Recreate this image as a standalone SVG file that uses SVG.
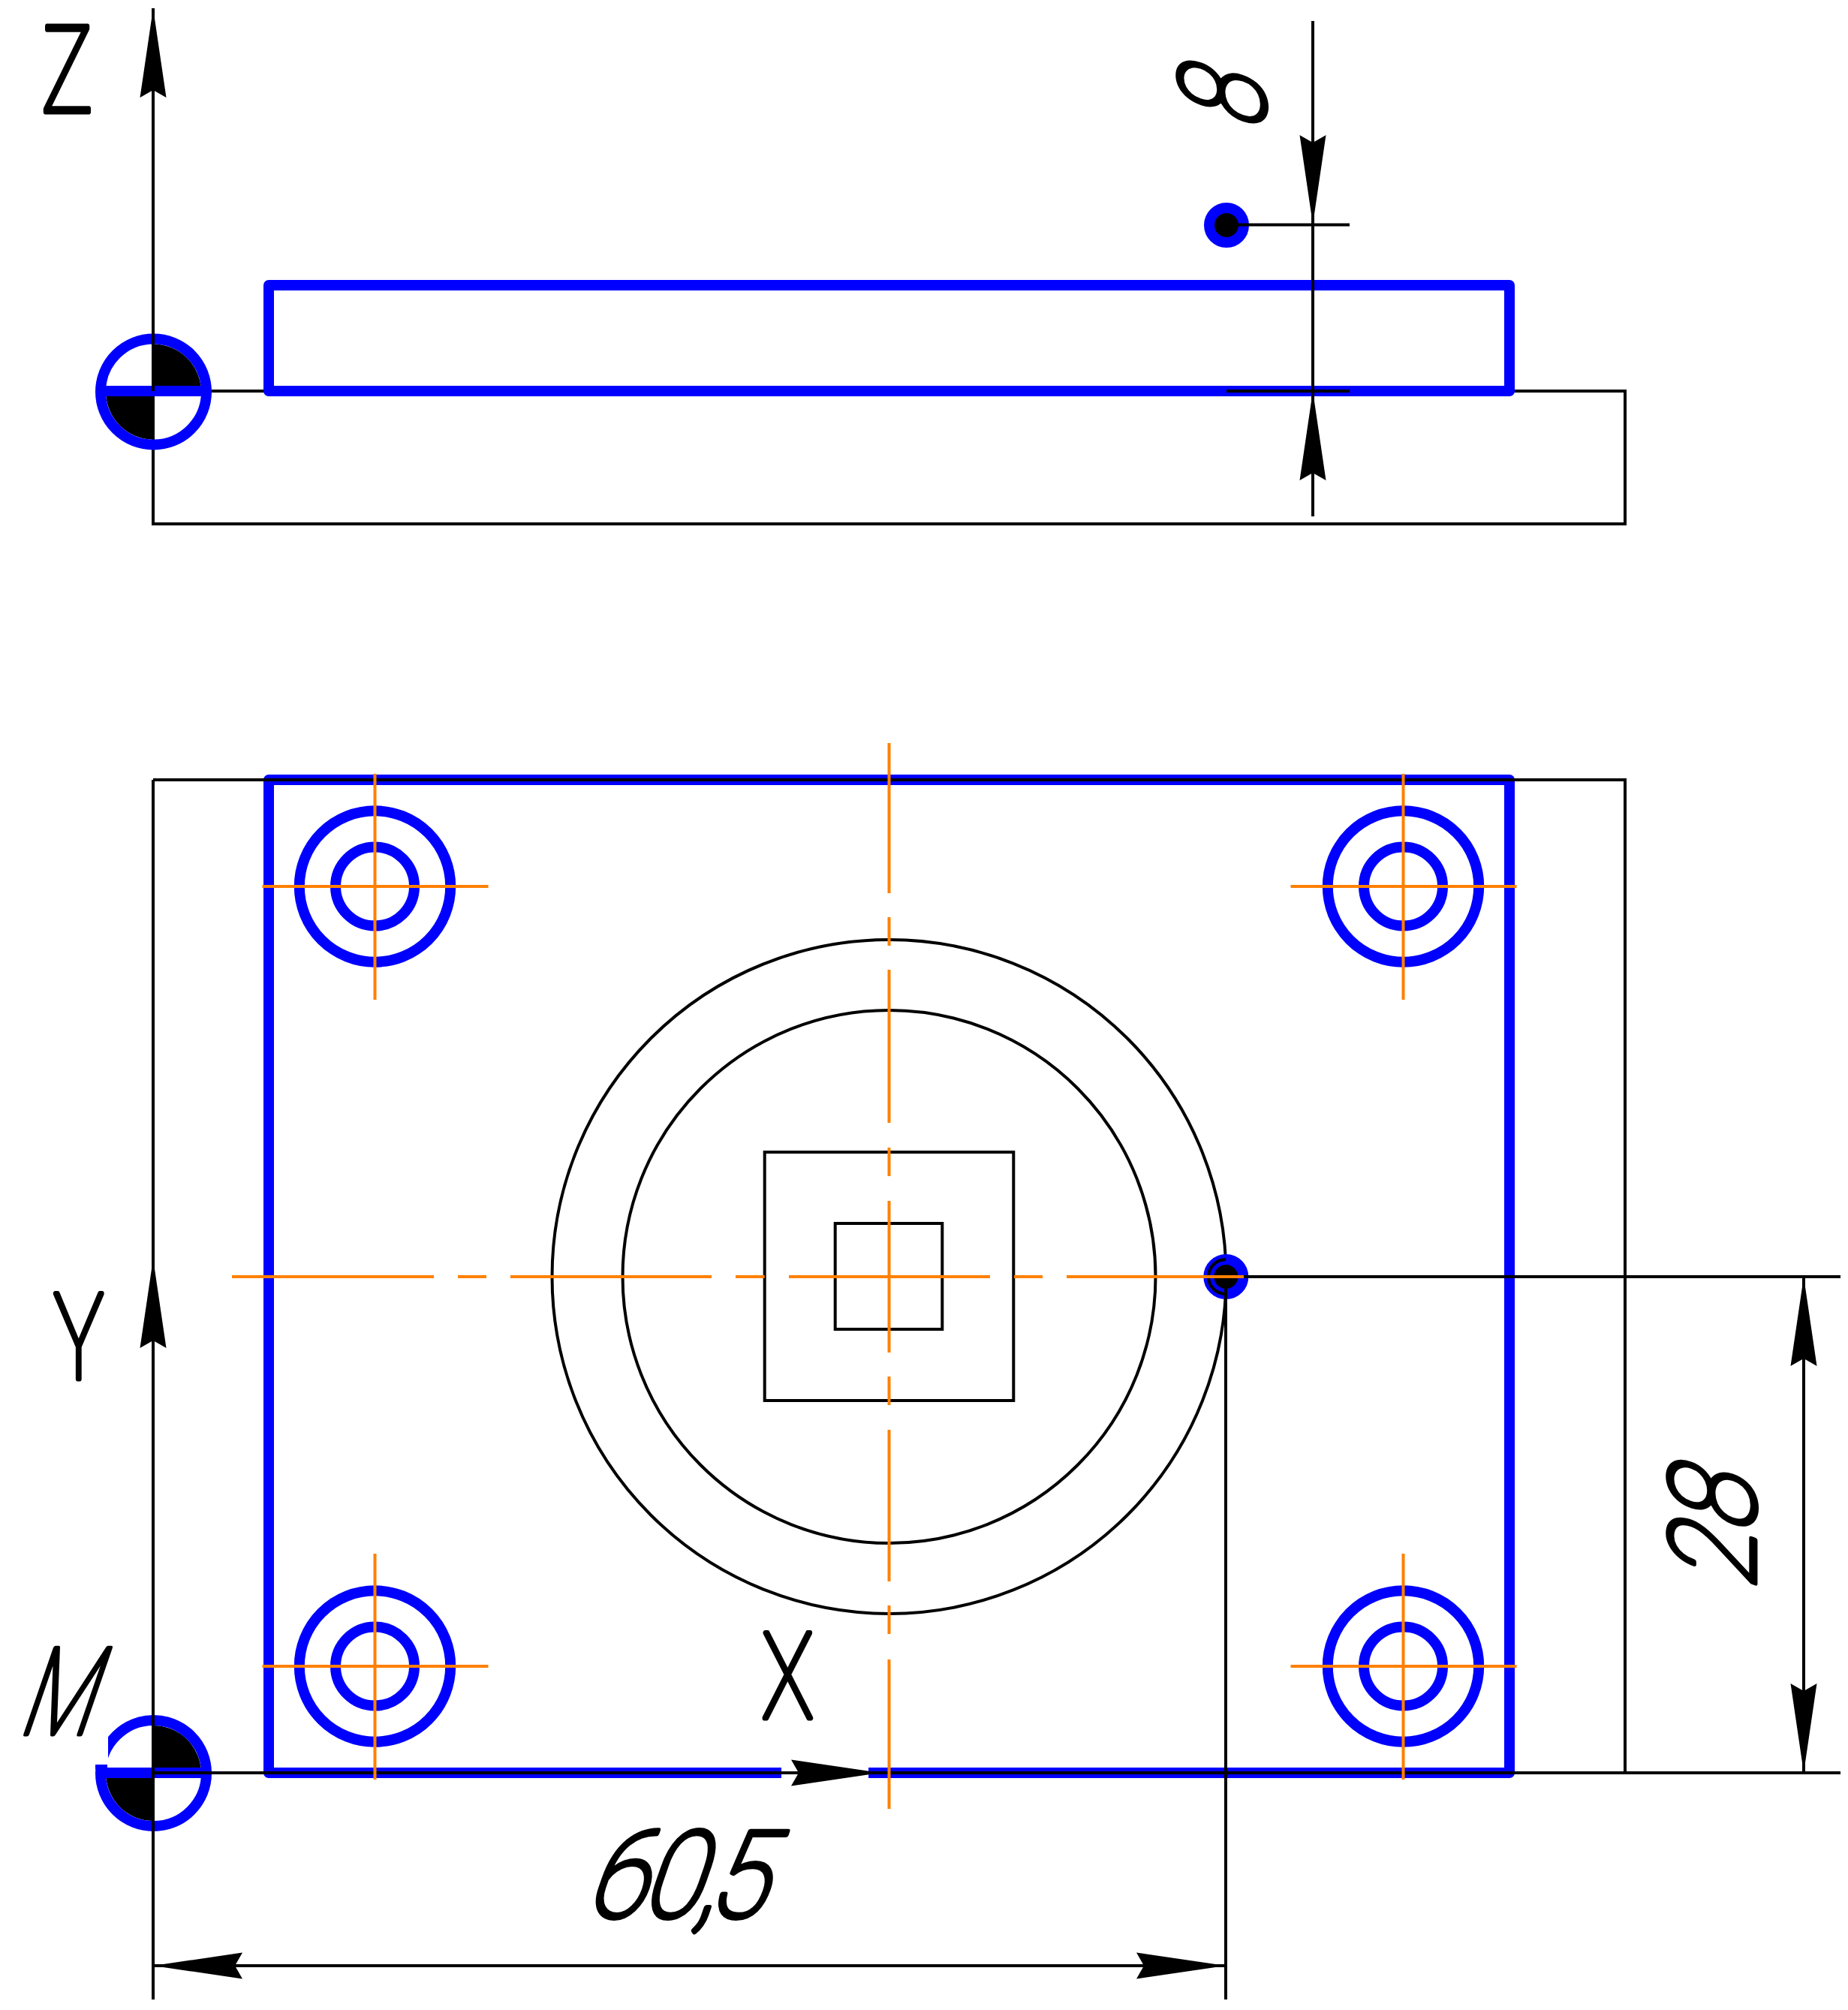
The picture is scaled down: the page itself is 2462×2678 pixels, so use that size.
<svg xmlns="http://www.w3.org/2000/svg" width="2462" height="2678" viewBox="0 0 2462 2678">
<style>
.k{fill:none;stroke:#000;stroke-width:4}
.b{fill:none;stroke:#00f;stroke-width:14;stroke-linejoin:round}
.o{fill:none;stroke:#ff8000;stroke-width:4}
.d{fill:#000;stroke:#00f;stroke-width:14}
.q{fill:#000;stroke:none}
.a{marker-end:url(#arrow)}
.aa{marker-start:url(#arrow);marker-end:url(#arrow)}
.t{font-family:Roboto,"Liberation Sans",sans-serif;font-weight:100;font-size:160px;fill:#000;stroke:#000;stroke-width:7;stroke-linejoin:round;text-anchor:middle}
</style>
<defs>
<marker id="arrow" markerUnits="userSpaceOnUse" viewBox="0 -18 120 36" refX="119" refY="0" markerWidth="120" markerHeight="36" orient="auto-start-reverse">
<path d="M119,0L0,-17.5L10,0L0,17.5Z" fill="#000"/>
</marker>
<g id="bolt">
<circle class="b" r="100.7"/>
<circle class="b" r="52.5"/>
<path class="o" d="M-150,0H151M0,-150V151"/>
</g>
</defs>
<rect width="2462" height="2678" fill="#fff"/>

<g id="connectors-under">
<path class="k" d="M204,521H2165V698H204Z"/>
<path class="k" d="M204,698V523"/>
<circle class="k" cx="1184.5" cy="1701" r="449"/>
<circle class="k" cx="1184.5" cy="1701" r="355"/>
</g>

<g id="part-top"><rect class="b" x="358" y="380" width="1653" height="141"/></g>
<g id="part-plan"><path class="b" d="M1157,2362H2011V1039H358V2362H1041"/></g>

<g id="origin-top">
<path class="q" d="M204.5,522V458.5A63.5,63.5 0 0 1 268,522Z"/>
<path class="q" d="M204.5,522V585.5A63.5,63.5 0 0 1 141,522Z"/>
<circle class="b" cx="204.5" cy="522" r="70.5"/>
<path class="b" d="M130,521H279"/>
</g>
<g id="origin-plan">
<path class="q" d="M204.5,2362.5V2299A63.5,63.5 0 0 1 268,2362.5Z"/>
<path class="q" d="M204.5,2362.5V2426A63.5,63.5 0 0 1 141,2362.5Z"/>
<circle class="b" cx="204.5" cy="2362.5" r="70.5"/>
<rect x="120" y="2300" width="24" height="51" fill="#fff"/>
<rect x="127" y="2351" width="16" height="6" fill="#00f"/>
<path class="b" d="M130,2362H279"/>
</g>

<g id="dot-top"><circle class="d" cx="1634" cy="300" r="23"/></g>
<g id="dot-plan">
<circle class="d" cx="1633.3" cy="1701" r="23"/>
<path class="k" d="M1633,1678A23,23 0 0 0 1633,1724"/>
</g>

<g id="squares">
<rect class="k" x="1018.7" y="1535" width="331.6" height="331"/>
<rect class="k" x="1112.7" y="1630" width="142.6" height="141"/>
</g>

<g id="connectors">
<path class="k a" d="M204,521V11"/>
<path class="k a" d="M1749,28V299"/>
<path class="k a" d="M1749,688V521"/>
<path class="k" d="M1749,299V521M1634,299.5H1798M1634,521H1798"/>
<path class="k" d="M204,1039H2165V2362M204,1677V1039"/>
<path class="k a" d="M204,2664V1677"/>
<path class="k a" d="M204,2362H1173"/>
<path class="k" d="M1173,2362H2452M1657,1701H2452M1633,1701V2664"/>
<path class="k aa" d="M2403,1701V2362"/>
<path class="k aa" d="M204,2619H1633"/>
</g>

<g id="centerlines">
<path class="o" d="M309,1701H578M610,1701H648M680,1701H948M980,1701H1018.7M1051,1701H1319M1351,1701H1389M1421,1701H1657"/>
<path class="o" d="M1184.5,990V1190M1184.5,1222V1260M1184.5,1292V1496M1184.5,1529V1567M1184.5,1600V1802M1184.5,1834V1872M1184.5,1905V2107M1184.5,2139V2177M1184.5,2211V2410"/>
</g>

<use id="bolt-tl" href="#bolt" x="499.5" y="1181"/>
<use id="bolt-tr" href="#bolt" x="1869.5" y="1181"/>
<use id="bolt-bl" href="#bolt" x="499.5" y="2220"/>
<use id="bolt-br" href="#bolt" x="1869.5" y="2220"/>

<g id="labels">
<text class="t" transform="translate(89.5,149) scale(.72,1)">Z</text>
<text class="t" transform="translate(105,1837) scale(.7,1)">Y</text>
<text class="t" transform="translate(1049.5,2289) scale(.72,1)">X</text>
<text class="t" transform="translate(71,2310) skewX(-19) scale(.7,1)">M</text>
<text class="t" transform="translate(778,2554) skewX(-19) scale(.9,1)" style="text-anchor:start" x="0 82 162 179">60,5</text>
<text class="t" transform="translate(1685,141) rotate(-90) skewX(-19) scale(.78,1)">8</text>
<text class="t" transform="translate(2338,2045) rotate(-90) skewX(-19) scale(.85,1)">28</text>
</g>
</svg>
